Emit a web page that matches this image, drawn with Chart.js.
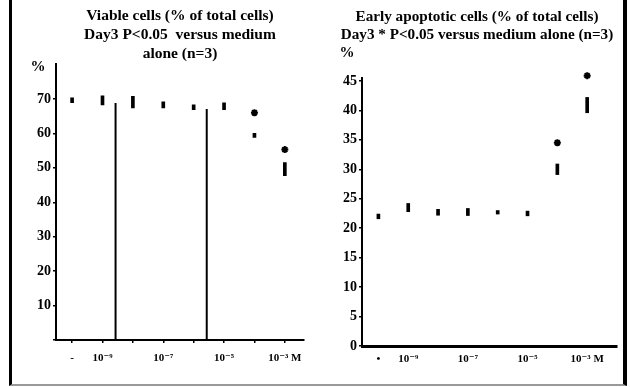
<!DOCTYPE html>
<html>
<head>
<meta charset="utf-8">
<script src="https://cdn.jsdelivr.net/npm/chart.js@4.4.1/dist/chart.umd.min.js"></script>
<style>
  body { margin: 0; background: #fff; }
  #frame { position: relative; width: 630px; height: 387px; overflow: hidden; }
  #border { position: absolute; left: 9px; top: 0; width: 611px; height: 384px;
            border-left: 3px solid #000; border-right: 4px solid #000; border-bottom: 2px solid #999; }
  canvas { position: absolute; top: 0; }
</style>
</head>
<body>
<div id="frame">
  <div id="border"></div>
  <canvas id="viable" width="311" height="387" style="left:0"></canvas>
  <canvas id="apoptotic" width="303" height="387" style="left:320px"></canvas>
</div>
<script>
// doses: medium alone, then 10^-9 .. 10^-3 M
const viableDoseLabels = ['-', '10⁻⁹', '', '10⁻⁷', '', '10⁻⁵', '', '10⁻³ M'];
const apoDoseLabels = ['•', '10⁻⁹', '', '10⁻⁷', '', '10⁻⁵', '', '10⁻³ M'];

// viable cells, % of total (mean and spread)
const viableMean = [69.6, 69.6, 69.1, 68.3, 67.6, 67.9, 59.4, 49.6];
const viableErr = [0.7, 1.3, 1.7, 0.9, 0.7, 1.0, 0.6, 1.9];
const viableStars = [null, null, null, null, null, null, 66.0, 55.3];
// two stray vertical rules in the viable panel
const viableRuleX = [1.43, 4.43];
const viableRuleTop = [68.8, 67.1];

// early apoptotic cells, % of total
const apoMean = [22.0, 23.5, 22.7, 22.75, 22.7, 22.5, 30.0, 40.9];
const apoErr = [0.4, 0.7, 0.5, 0.6, 0.3, 0.4, 0.9, 1.3];
const apoStars = [null, null, null, null, null, null, 34.5, 45.9];

const viableTicks = [0, 5, 10, 15, 20, 25, 30, 35, 40, 45, 50, 55, 60, 65, 70];
const apoTicks = [0, 2.5, 5, 7.5, 10, 12.5, 15, 17.5, 20, 22.5, 25, 27.5, 30, 32.5, 35, 37.5, 40, 42.5, 45];

const serif = '"Liberation Serif", "DejaVu Serif", serif';

const unitMark = {
  id: 'unitMark',
  afterDraw(chart, args, opts) {
    const { ctx, chartArea } = chart;
    ctx.save();
    ctx.font = 'bold 15px ' + serif;
    ctx.fillStyle = '#000';
    ctx.textAlign = 'center';
    ctx.textBaseline = 'middle';
    ctx.fillText('%', chartArea.left + opts.dx, chartArea.top + opts.dy);
    ctx.restore();
  }
};

function errorBars(mean, err) {
  return mean.map((m, i) => ({ x: i, y: [m - err[i], m + err[i]] }));
}

function starPoints(stars) {
  return stars.map((s, i) => ({ x: i, y: s })).filter(p => p.y !== null);
}

function makeChart(id, cfg) {
  let datasets = [
    {
      type: 'bar',
      data: errorBars(cfg.mean, cfg.err),
      backgroundColor: '#000',
      borderWidth: 0,
      barThickness: 3,
      grouped: false
    },
    {
      type: 'scatter',
      data: starPoints(cfg.stars),
      pointStyle: 'star',
      radius: 3.5,
      borderWidth: 2,
      borderColor: '#000',
      backgroundColor: '#000',
      clip: false
    }
  ];
  (cfg.ruleX || []).forEach((x, i) => {
    datasets.push({
      type: 'line',
      data: [{ x: x, y: 0 }, { x: x, y: cfg.ruleTop[i] }],
      borderColor: '#000',
      borderWidth: 2,
      pointRadius: 0
    });
  });

  return new Chart(document.getElementById(id), {
    data: { datasets: datasets },
    options: {
      responsive: false,
      animation: false,
      layout: { padding: { left: cfg.padLeft, right: 0, top: 0, bottom: 0 } },
      plugins: {
        legend: { display: false },
        tooltip: { enabled: false },
        title: {
          display: true,
          text: cfg.title,
          color: '#000',
          fullSize: cfg.titleFull,
          font: { family: serif, size: cfg.titleSize, weight: 'bold', lineHeight: cfg.titleLine },
          padding: cfg.titlePad
        },
        unitMark: cfg.unit
      },
      scales: {
        x: {
          type: 'linear',
          min: cfg.xMin,
          max: cfg.xMax,
          offset: false,
          afterBuildTicks: scale => {
            scale.ticks = cfg.labels.map((l, i) => ({ value: i }));
          },
          afterFit: scale => { scale.height = cfg.xHeight; },
          border: { display: true, color: '#000', width: cfg.xBorder },
          grid: { offset: false, drawOnChartArea: false, drawTicks: cfg.xTicks, tickLength: 3, color: '#000', lineWidth: 1.5 },
          ticks: {
            autoSkip: false,
            maxRotation: 0,
            padding: cfg.xPad,
            color: '#000',
            font: { family: serif, size: 11, weight: 'bold' },
            callback: v => cfg.labels[v] || ''
          }
        },
        y: {
          min: 0,
          max: cfg.yMax,
          afterBuildTicks: scale => {
            scale.ticks = cfg.yTicks.map(v => ({ value: v }));
          },
          afterFit: scale => { scale.width = cfg.yWidth; },
          border: { display: true, color: '#000', width: 2 },
          grid: { drawOnChartArea: false, tickLength: 3, color: '#000', lineWidth: 1.5 },
          ticks: {
            padding: 2,
            color: '#000',
            font: { family: serif, size: 14, weight: 'bold' },
            callback: v => cfg.yLabel(v)
          }
        }
      }
    },
    plugins: [unitMark]
  });
}

makeChart('viable', {
  mean: viableMean, err: viableErr, stars: viableStars,
  ruleX: viableRuleX, ruleTop: viableRuleTop,
  labels: viableDoseLabels,
  title: ['Viable cells (% of total cells)', 'Day3 P<0.05  versus medium', 'alone (n=3)'],
  titleFull: false,
  titleSize: 15.5,
  titleLine: 19 / 15.5,
  titlePad: { top: 6.5, bottom: 0 },
  padLeft: 0,
  xMin: -0.53, xMax: 7.63, xHeight: 47, xBorder: 2, xTicks: true, xPad: 9,
  yMax: 80.3, yWidth: 56, yTicks: viableTicks,
  yLabel: v => (v > 0 && v % 10 === 0 ? String(v) : ''),
  unit: { dx: -18, dy: 4 }
});

makeChart('apoptotic', {
  mean: apoMean, err: apoErr, stars: apoStars,
  labels: apoDoseLabels,
  title: ['Early apoptotic cells (% of total cells)', 'Day3 * P<0.05 versus medium alone (n=3)'],
  titleFull: true,
  titleSize: 15.2,
  titleLine: 18 / 15.2,
  titlePad: { top: 8, bottom: 34 },
  padLeft: 11,
  xMin: -0.55, xMax: 8.0, xHeight: 41, xBorder: 3, xTicks: false, xPad: 7,
  yMax: 45.5, yWidth: 31, yTicks: apoTicks,
  yLabel: v => (v % 5 === 0 ? String(v) : ''),
  unit: { dx: -15, dy: -25 }
});
</script>
</body>
</html>
